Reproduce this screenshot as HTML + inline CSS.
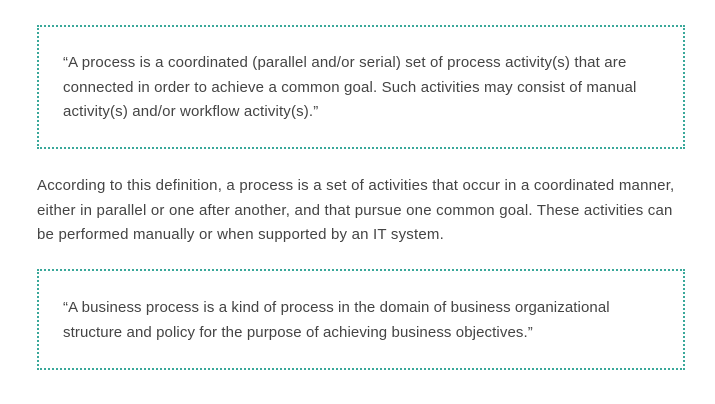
<!DOCTYPE html>
<html><head><meta charset="utf-8"><style>
body{margin:0;width:715px;height:404px;background:#fff;font-family:"Liberation Sans",sans-serif;color:#444;font-size:15px;position:relative;overflow:hidden}
.box{position:absolute;left:37px;width:648px;border:2px dotted #3aa89a;box-sizing:border-box}
.t{position:absolute;white-space:nowrap;line-height:24.5px}
</style></head><body>
<div class="box" style="top:25px;height:124px"></div>
<div class="t" style="left:63px;top:51px;letter-spacing:0.15px">“A process is a coordinated (parallel and/or serial) set of process activity(s) that are<br>connected in order to achieve a common goal. Such activities may consist of manual<br>activity(s) and/or workflow activity(s).”</div>
<div class="t" style="left:37px;top:174px;letter-spacing:0.2px">According to this definition, a process is a set of activities that occur in a coordinated manner,<br>either in parallel or one after another, and that pursue one common goal. These activities can<br>be performed manually or when supported by an IT system.</div>
<div class="box" style="top:269px;height:101px"></div>
<div class="t" style="left:63px;top:296px;letter-spacing:0.1px">“A business process is a kind of process in the domain of business organizational<br>structure and policy for the purpose of achieving business objectives.”</div>
</body></html>
